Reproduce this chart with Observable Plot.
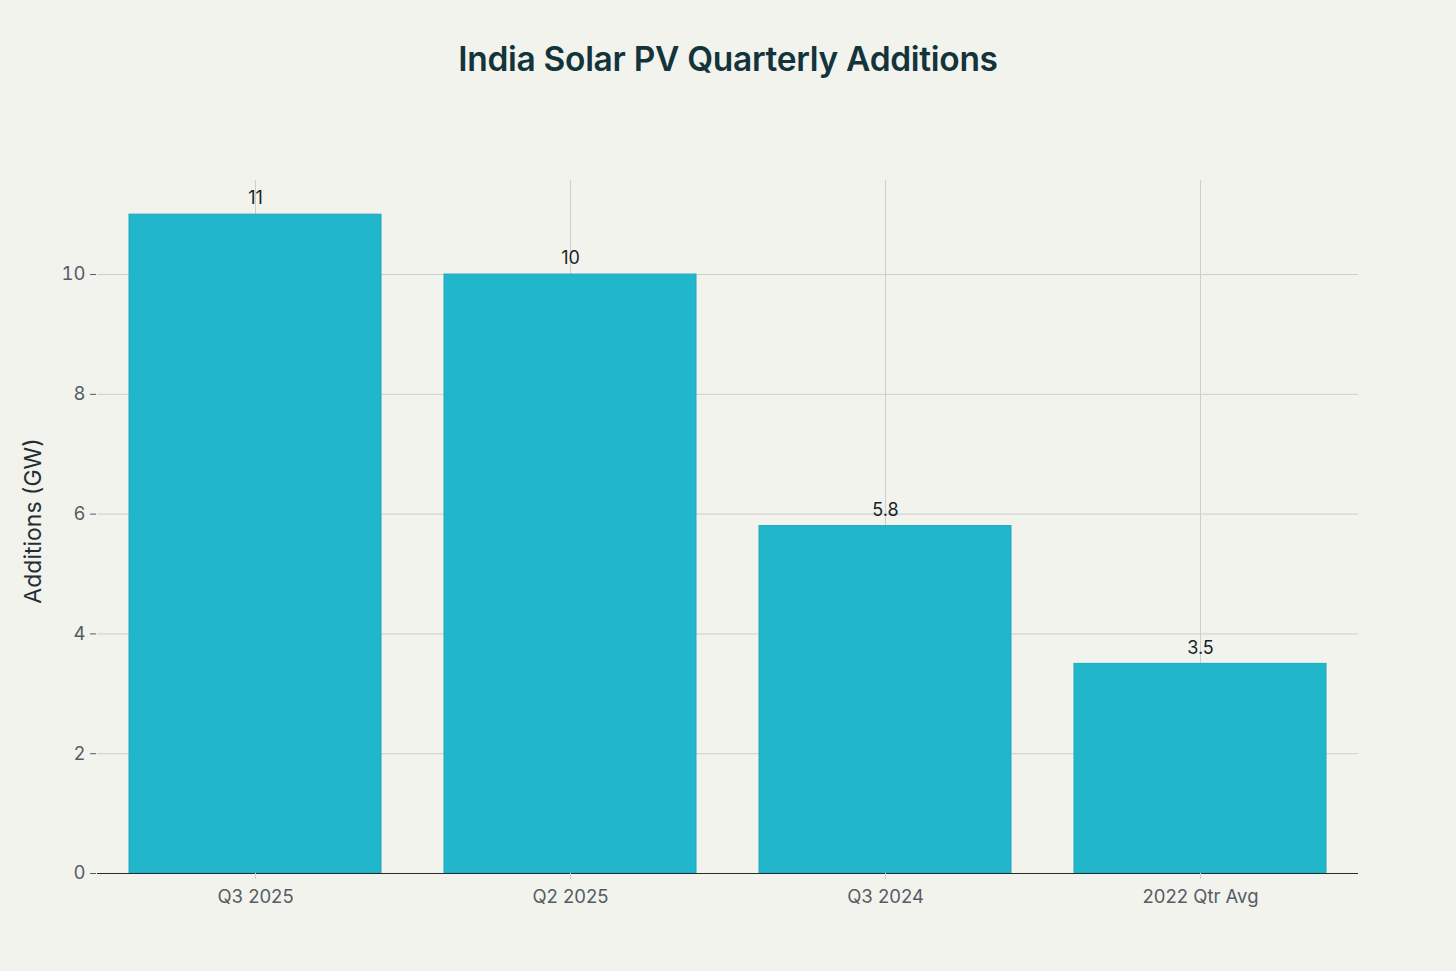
<!DOCTYPE html>
<html>
<head>
<meta charset="utf-8">
<script src="https://cdn.jsdelivr.net/npm/d3@7"></script>
<script src="https://cdn.jsdelivr.net/npm/@observablehq/plot@0.6"></script>
<style>
  html, body { margin: 0; padding: 0; background: #f3f3ee; }
  #wrap { position: relative; width: 1456px; height: 971px; font-family: Inter, "Liberation Sans", sans-serif; }
  #title { position: absolute; left: 0; top: 39px; width: 1456px; text-align: center; font-size: 33.5px; font-weight: 600; color: #13343b; letter-spacing: -0.3px; }
  #ylabel { position: absolute; left: 33px; top: 521px; transform: translate(-50%, -50%) rotate(-90deg); white-space: nowrap; font-size: 23px; color: #1f2f35; }
  svg { display: block; }
</style>
</head>
<body>
<div id="wrap">
  <div id="chart"></div>
  <div id="title">India Solar PV Quarterly Additions</div>
  <div id="ylabel">Additions (GW)</div>
</div>
<script>
const categories = ["Q3 2025", "Q2 2025", "Q3 2024", "2022 Qtr Avg"];
const values = [11, 10, 5.8, 3.5];
const valueLabels = ["11", "10", "5.8", "3.5"];
const yTicks = [0, 2, 4, 6, 8, 10];
const yMax = 11.57;

const data = categories.map((c, i) => ({category: c, value: values[i], label: valueLabels[i]}));

const chart = Plot.plot({
  width: 1456,
  height: 971,
  marginTop: 180,
  marginBottom: 98,
  marginLeft: 97,
  marginRight: 98,
  style: {background: "#f3f3ee", fontFamily: "Inter, 'Liberation Sans', sans-serif"},
  x: {domain: categories, paddingInner: 0.2, paddingOuter: 0.1, label: null},
  y: {domain: [0, yMax], label: null},
  marks: [
    Plot.gridY(yTicks.filter(d => d > 0), {stroke: "#cfcfca", strokeOpacity: 1, strokeWidth: 1}),
    Plot.gridX(categories, {stroke: "#cfcfca", strokeOpacity: 1, strokeWidth: 1}),
    Plot.barY(data, {x: "category", y: "value", fill: "#21b6cc", stroke: "#1ea8bd", strokeWidth: 1}),
    Plot.ruleY([0], {stroke: "#2b2b2b", strokeWidth: 1.2}),
    Plot.text(data, {x: "category", y: "value", text: "label", dy: -16, fontSize: 18, fill: "#13252b"}),
    Plot.axisX({ticks: categories, tickSize: 6, tickPadding: 10, fontSize: 18.5, color: "#555d63", stroke: "#cfcfca", label: null}),
    Plot.axisY({ticks: yTicks, tickSize: 6, tickPadding: 5, fontSize: 18.5, color: "#555d63", label: null, dx: -1})
  ]
});
document.getElementById("chart").appendChild(chart);
</script>
</body>
</html>
